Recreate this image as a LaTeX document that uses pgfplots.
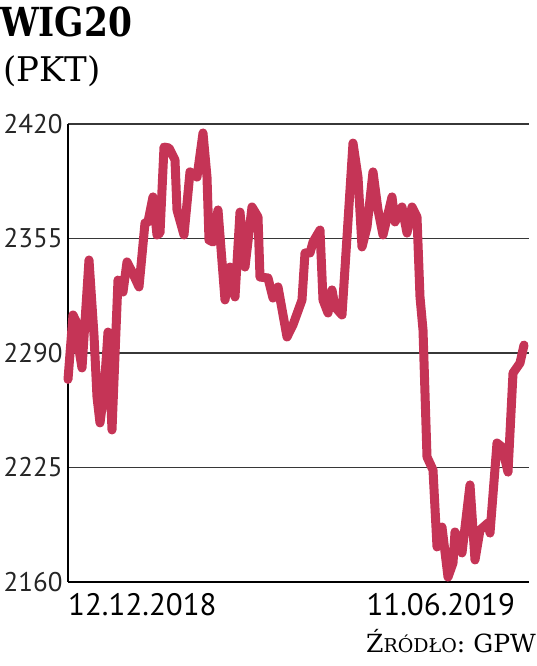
\documentclass[border=0pt]{standalone}
\usepackage{pgfplots}
\pgfplotsset{compat=1.18}
\usepackage{fontspec}
\setmainfont{PT Sans}
\newfontfamily\slab{DejaVu Serif}
\definecolor{wigred}{RGB}{197,52,86}
\definecolor{gridgray}{RGB}{55,55,55}
\begin{document}
\begin{tikzpicture}[x=1pt,y=1pt]
\begin{axis}[
  scale only axis,
  width=461pt, height=458pt,
  at={(0pt,0pt)}, anchor=south west,
  xmin=68, xmax=529, ymin=2160, ymax=2420,
  axis lines=left,
  axis line style={-, black, line width=1.4pt},
  xtick=\empty,
  ytick={2160,2225,2290,2355,2420},
  major tick length=0pt,
  ymajorgrids,
  grid style={gridgray, line width=1.6pt},
  yticklabel style={font=\fontsize{27}{27}\selectfont, anchor=east, xshift=-2pt, text=black!85},
  /pgf/number format/assume math mode=true,
  /pgf/number format/1000 sep={},
  clip=false,
]
\addplot[wigred, line width=9pt, line join=round, line cap=round] coordinates {
(68,2275) (73,2311.6) (76,2308) (79,2292) (82,2281.5) (89,2342.8) (94,2300) (97,2265) (100,2250.3)
(104,2268) (108,2301.9) (112,2246.3) (118,2331.4) (123,2324.6) (127,2341.7) (133,2335) (139,2327.5)
(145,2363.8) (148,2364.4) (153,2378.6) (157,2357) (160,2358.1) (164,2406.9) (169,2406.4)
(175,2399.6) (177,2371.2) (184,2357) (190,2392.8) (197,2389.9) (203,2414.9) (207,2389.9)
(209,2354.1) (213,2353) (218,2371.2) (225,2320.1) (230,2338.8) (235,2321.8) (240,2370)
(245,2338.8) (252,2372.9) (258,2367.2) (260,2333.1) (268,2332.6) (273,2321.2) (278,2327.5)
(287,2299.1) (293,2306) (302,2320.1) (305,2346.8) (310,2346.8) (313,2353) (320,2359.8)
(323,2320.1) (328,2312.7) (332,2325.8) (335,2316.1) (342,2311.6) (353,2409.2) (358,2389.9)
(362,2350.2) (367,2361.5) (373,2392.8) (378,2371.2) (383,2357) (392,2378.6) (395,2364.4)
(402,2372.9) (407,2358.1) (412,2372.9) (417,2367.2) (420,2321.8) (423,2303.1) (427,2231)
(433,2223.6) (437,2179.9) (442,2191.2) (448,2162.8) (453,2170.8) (455,2188.4) (462,2176.5)
(470,2215.1) (475,2172.5) (480,2189.5) (488,2193.5) (490,2187.8) (497,2238.9) (502,2236.6)
(508,2222.4) (513,2278.6) (520,2284.3) (524,2294.5)
};
\node[anchor=north west, inner sep=0pt, font=\fontsize{31}{31}\selectfont] at (axis description cs:0,0) [yshift=-11pt] {12.12.2018};
\node[anchor=north east, inner sep=0pt, font=\fontsize{31}{31}\selectfont] at (axis description cs:0.97,0) [yshift=-11pt] {11.06.2019};
\end{axis}
\node[anchor=base west, inner sep=0pt, font=\slab\bfseries\fontsize{40}{40}\selectfont] at (-68pt,545pt) {\scalebox{0.86}[1]{WIG20}};
\node[anchor=base west, inner sep=0pt, font=\slab\fontsize{34}{34}\selectfont] at (-65pt,500pt) {(PKT)};
\node[anchor=base east, inner sep=0pt, font=\slab] at (468pt,-70pt) {{\fontsize{25}{25}\selectfont Ź}{\fontsize{19}{19}\selectfont RÓDŁO}{\fontsize{25}{25}\selectfont : GPW}};
\path[use as bounding box] (-68pt,-84pt) rectangle (468pt,582pt);
\end{tikzpicture}
\end{document}
